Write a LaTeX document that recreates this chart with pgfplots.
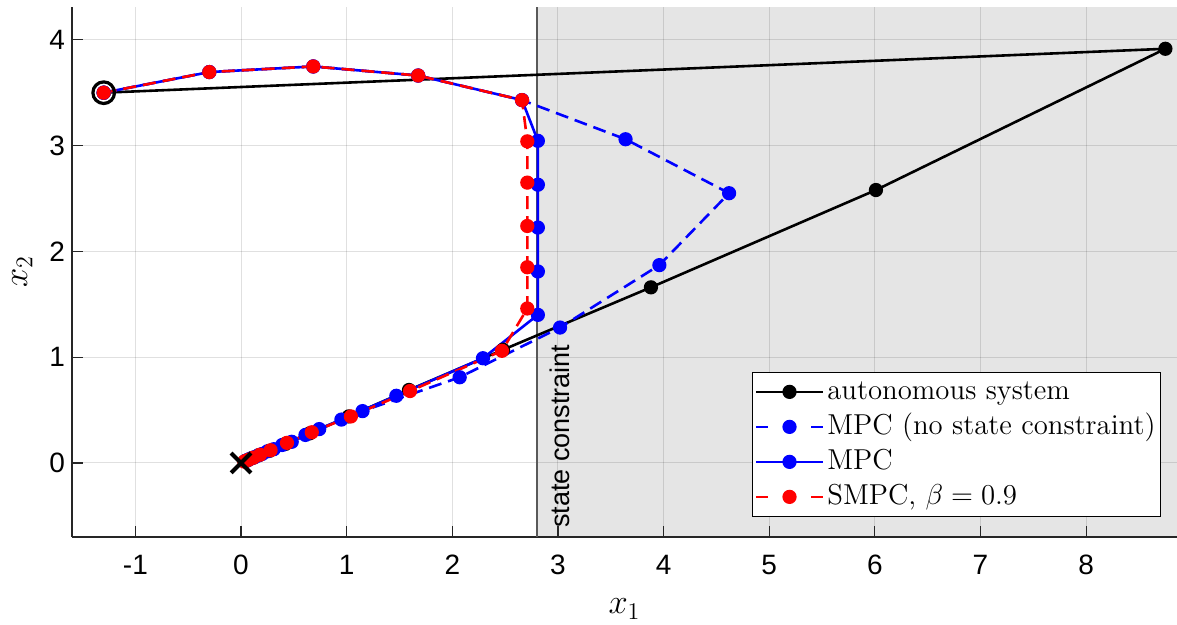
\documentclass[border=0pt]{standalone}
\usepackage{fontspec}
\usepackage{pgfplots}
\pgfplotsset{compat=1.18}
\newfontfamily\arial{Liberation Sans}
\definecolor{shade}{gray}{0.9}
\definecolor{axgray}{gray}{0.15}
\definecolor{cgray}{gray}{0.35}

\pgfplotstableread{
x y
-1.3 3.5
8.75 3.915
6.01 2.58
3.88 1.66
2.48 1.07
1.59 0.69
1.02 0.44
0.65 0.28
0.42 0.18
0.27 0.115
0.17 0.074
0.11 0.048
0.07 0.03
0.045 0.02
}\autonomous

\pgfplotstableread{
x y
-1.3 3.5
-0.30 3.695
0.684 3.748
1.677 3.662
2.66 3.43
3.64 3.06
4.62 2.55
3.96 1.87
3.02 1.28
2.07 0.81
1.15 0.49
0.74 0.32
0.48 0.20
0.31 0.13
0.20 0.085
0.13 0.055
0.08 0.035
0.05 0.02
}\mpcnc

\pgfplotstableread{
x y
-1.3 3.5
-0.30 3.695
0.684 3.748
1.677 3.662
2.66 3.43
2.81 3.045
2.81 2.63
2.81 2.225
2.81 1.81
2.81 1.40
2.29 0.99
1.47 0.635
0.95 0.41
0.61 0.265
0.39 0.17
0.25 0.11
0.16 0.07
0.10 0.045
0.065 0.03
0.04 0.018
}\mpc

\pgfplotstableread{
x y
-1.3 3.5
-0.30 3.695
0.684 3.748
1.677 3.662
2.66 3.43
2.71 3.04
2.71 2.65
2.71 2.24
2.71 1.85
2.71 1.46
2.47 1.06
1.60 0.68
1.04 0.44
0.67 0.29
0.435 0.19
0.28 0.12
0.18 0.078
0.117 0.05
0.075 0.032
0.048 0.02
0.03 0.013
}\smpc

\begin{document}
\begin{tikzpicture}
\begin{axis}[
  set layers,
  scale only axis, width=552.5pt, height=265pt,
  xmin=-1.6, xmax=8.86, ymin=-0.7, ymax=4.31,
  axis x line*=bottom, axis y line*=left,
  axis line style={axgray, line width=0.6pt},
  xtick={-1,0,...,8}, ytick={0,1,...,4},
  tick align=inside, major tick length=5.5pt,
  tick style={axgray, line width=0.6pt},
  grid=major, major grid style={black, opacity=0.12, line width=0.5pt},
  /pgf/number format/assume math mode=true,
  ticklabel style={font=\arial\fontsize{14}{14}\selectfont},
  xticklabel style={yshift=-5.5pt},
  xlabel={$x_1$}, ylabel={$x_2$},
  xlabel style={at={(axis description cs:0.5,-0.145)}, anchor=base, font=\fontsize{17}{17}\selectfont},
  ylabel style={at={(axis description cs:-0.045,0.5)}, anchor=center, font=\fontsize{17}{17}\selectfont},
  legend style={at={(0.9855,0.038)}, anchor=south east, draw=black, line width=0.5pt, fill=white,
    font=\fontsize{14.4}{17.5}\selectfont, inner sep=1pt,
    nodes={inner sep=1.5pt, text height=11pt, text depth=3.5pt}},
  legend cell align=left,
  legend image code/.code={\draw[mark repeat=2,mark phase=2,#1] plot coordinates {(0pt,0pt) (16.75pt,0pt) (33.5pt,0pt)};},
  mydash/.style={dash pattern=on 6.5pt off 3.5pt},
  legdash/.style={legend image post style={dash pattern=on 6pt off 21.5pt on 6pt off 0pt}},
]
\addplot[on layer=axis background, fill=shade, draw=none, forget plot]
  coordinates {(2.8,-0.7) (8.86,-0.7) (8.86,4.31) (2.8,4.31)} -- cycle;
\addplot[cgray, line width=0.8pt, forget plot] coordinates {(2.8,-0.7) (2.8,4.31)};

\addplot[black, line width=1.3pt, mark=*, mark size=2.9pt] table {\autonomous};
\addlegendentry{autonomous system}
\addplot[blue, line width=1.3pt, mydash, legdash, mark=*, mark size=2.9pt, mark options={solid}] table {\mpcnc};
\addlegendentry{MPC (no state constraint)}
\addplot[blue, line width=1.3pt, mark=*, mark size=2.9pt] table {\mpc};
\addlegendentry{MPC}
\addplot[red, line width=1.3pt, mydash, legdash, mark=*, mark size=2.9pt, mark options={solid}] table {\smpc};
\addlegendentry{SMPC, $\beta=0.9$}

\addplot[black, only marks, mark=o, mark size=5.4pt, line width=1.6pt, forget plot] coordinates {(-1.3,3.5)};
\addplot[black, only marks, mark=x, mark size=7pt, line width=2pt, forget plot] coordinates {(0,0)};

\node[rotate=90, anchor=south west, inner sep=0pt, font=\arial\fontsize{13.5}{13.5}\selectfont]
  at (axis cs:3.12,-0.615) {state constraint};
\end{axis}
\pgfresetboundingbox
\path (current axis.south west) ++(-36pt,-43.5pt) coordinate (bbsw);
\path (current axis.north east) ++(0pt,3.5pt) coordinate (bbne);
\useasboundingbox (bbsw) rectangle (bbne);
\end{tikzpicture}
\end{document}
